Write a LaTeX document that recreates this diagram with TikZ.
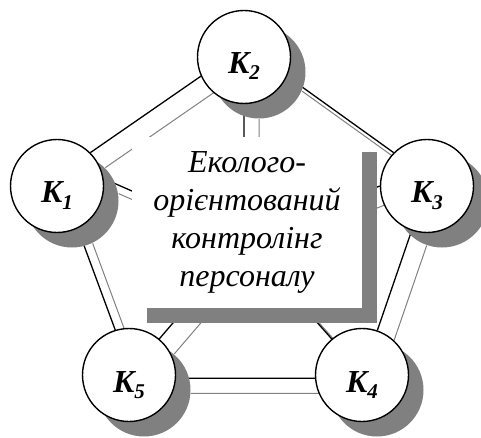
\documentclass[tikz,border=0pt]{standalone}
\usepackage{fontspec}
\setmainfont{Liberation Serif}
\usetikzlibrary{
        backgrounds,
        shadows
    }
\definecolor{shade}{gray}{0.5}
\newcommand{\knum}[1]{\raisebox{-6pt}{\fontsize{21}{21}\selectfont #1}}
\tikzset{x=1pt,y=-1pt}
\tikzset{
    unit/.style={circle,draw,line width=1.4pt,fill=white,minimum size=93pt,inner sep=0pt,
        text height=34pt,text depth=0pt,
        font=\fontsize{32}{32}\selectfont\bfseries\itshape,
        drop shadow={shadow xshift=15pt,shadow yshift=-15pt,fill=shade,opacity=1}},
    core/.style={fill=white,minimum width=230pt,minimum height=171pt,inner sep=0pt,align=center,
        font=\fontsize{32}{38}\selectfont\itshape,
        drop shadow={shadow xshift=15pt,shadow yshift=-15pt,fill=shade,opacity=1}},
    link/.style={line width=1.3pt},
    echo/.style={draw=shade,line width=1pt}
}

\begin{document}
\begin{tikzpicture}
    \useasboundingbox (0,0) rectangle (481,438);
    \node[core] (core) at (247,222.5) {Еколого-\\орієнтований\\контролінг\\персоналу};
    \node[unit] (k2) at (244,57)  {K\knum{2}};
    \node[unit] (k1) at (57,186)  {K\knum{1}};
    \node[unit] (k3) at (427,186) {K\knum{3}};
    \node[unit] (k5) at (129,375) {K\knum{5}};
    \node[unit] (k4) at (362,375) {K\knum{4}};
    \coordinate (mid) at (244,240);
    \begin{scope}[on background layer]
        % grey copy of the links, shifted like the shadows
        \begin{scope}[transform canvas={xshift=15pt,yshift=-15pt}]
            \draw[echo] (k1.45) -- (k2.204) (k2.336) -- (k3.135) (k3) -- (k4)
                (k4.184) -- (k5.356) (k5.107) -- (k1.296);
            \draw[echo] (mid) -- (k1.9) (mid) -- (k2.south) (mid) -- (k3.180)
                (mid) -- (k4.130) (mid) -- (k5.50);
        \end{scope}
        \draw[link] (k1.45) -- (k2.204) (k2.336) -- (k3.135) (k3) -- (k4)
            (k4.184) -- (k5.356) (k5.107) -- (k1.296);
        \draw[link] (mid) -- (k1.9) (mid) -- (k2.south) (mid) -- (k3.180)
            (mid) -- (k4.130) (mid) -- (k5.50);
    \end{scope}
\end{tikzpicture}
\end{document}
